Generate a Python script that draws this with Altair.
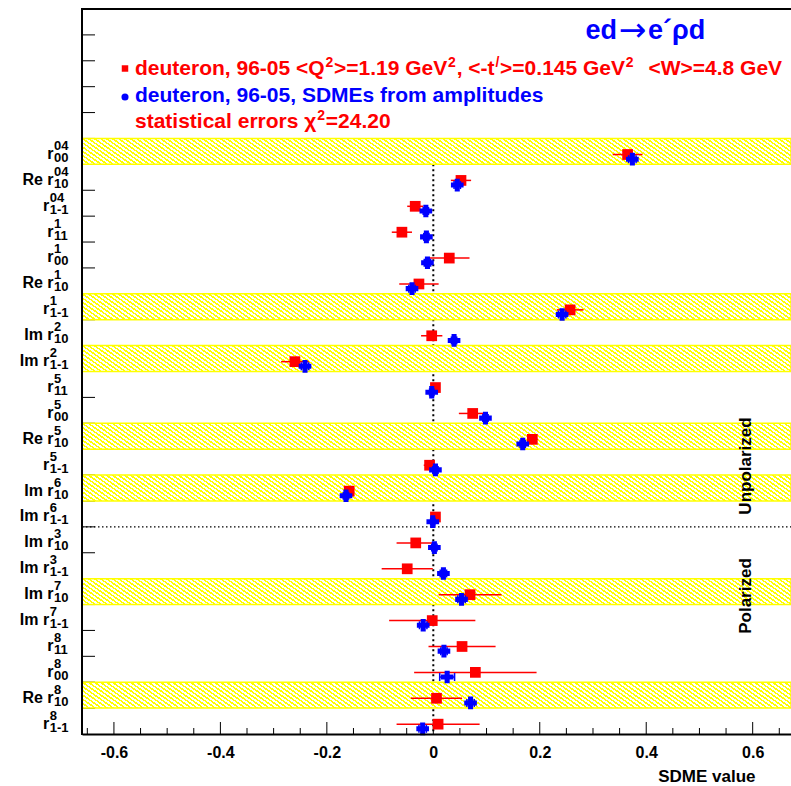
import altair as alt
import pandas as pd
import numpy as np

# ---------------- data ----------------
main_txt = ["r", "Re r", "r", "r", "r", "Re r", "r", "Im r", "Im r", "r", "r", "Re r",
            "r", "Im r", "Im r", "Im r", "Im r", "Im r", "Im r", "r", "r", "Re r", "r"]
sup_txt = ["04", "04", "04", "1", "1", "1", "1", "2", "2", "5", "5", "5",
           "5", "6", "6", "3", "3", "7", "7", "8", "8", "8", "8"]
sub_txt = ["00", "10", "1-1", "11", "00", "10", "1-1", "10", "1-1", "11", "00", "10",
           "1-1", "10", "1-1", "10", "1-1", "10", "1-1", "11", "00", "10", "1-1"]
red_val = [0.365, 0.052, -0.034, -0.059, 0.030, -0.027, 0.257, -0.003, -0.260, 0.004, 0.074, 0.186,
           -0.007, -0.158, 0.004, -0.033, -0.049, 0.069, -0.002, 0.054, 0.079, 0.006, 0.009]
red_err = [0.028, 0.019, 0.015, 0.019, 0.038, 0.037, 0.025, 0.020, 0.026, 0.006, 0.026, 0.010,
           0.011, 0.008, 0.006, 0.036, 0.048, 0.059, 0.081, 0.063, 0.115, 0.048, 0.078]
blue_val = [0.374, 0.045, -0.014, -0.013, -0.011, -0.040, 0.242, 0.039, -0.241, -0.003, 0.098, 0.168,
            0.004, -0.164, -0.001, 0.002, 0.019, 0.053, -0.019, 0.020, 0.026, 0.070, -0.020]
blue_err = [0.007, 0.006, 0.005, 0.005, 0.006, 0.006, 0.007, 0.005, 0.007, 0.004, 0.005, 0.005,
            0.005, 0.005, 0.004, 0.005, 0.006, 0.007, 0.007, 0.006, 0.014, 0.007, 0.007]
highlighted = [True, False, False, False, False, False, True, False, True, False, False, True,
               False, True, False, False, False, True, False, False, False, True, False]

x_major = [-0.6, -0.4, -0.2, 0.0, 0.2, 0.4, 0.6]
x_minor = [-0.65, -0.55, -0.5, -0.45, -0.35, -0.3, -0.25, -0.15, -0.1, -0.05,
           0.05, 0.1, 0.15, 0.25, 0.3, 0.35, 0.45, 0.5, 0.55, 0.65]

N_EMPTY = 5
N_ROWS = N_EMPTY + len(main_txt)
SPLIT_ROW = N_EMPTY + 15           # unpolarized / polarized boundary

# ---------------- layout ----------------
W, H = 709, 725
OX, OY = 82, 9                     # plot-area origin in the page
ROW_H = H / N_ROWS
FONT = "Liberation Sans"
RED, BLUE, YELLOW = "#ff0000", "#0000ff", "#ffff00"

# approximate advance widths (em) of the bold sans font, used to flow text runs
CW = {" ": .278, ",": .278, "-": .333, ".": .278, "/": .278, "<": .584, "=": .584, ">": .584,
      "G": .778, "Q": .778, "V": .667, "W": .944, "S": .667, "D": .722, "M": .833, "E": .667,
      "a": .556, "c": .556, "d": .611, "e": .556, "f": .333, "i": .278, "l": .278, "m": .889,
      "n": .611, "o": .611, "p": .611, "r": .389, "s": .556, "t": .333, "u": .611, "\u03c7": .58}


def text_w(s, fs):
    return sum(CW.get(c, .556) for c in s) * fs


xscale = alt.Scale(domain=[-0.66, 0.672], nice=False, zero=False)
yscale = alt.Scale(domain=[0, N_ROWS], reverse=True, nice=False, zero=False)

df = pd.DataFrame(dict(main=main_txt, sup=sup_txt, sub=sub_txt, red=red_val, red_err=red_err,
                       blue=blue_val, blue_err=blue_err, hl=highlighted))
df["row"] = N_EMPTY + np.arange(len(df))
df["row_end"] = df["row"] + 1
df["y_red"] = df["row"] + 0.62
df["y_blue"] = df["row"] + 0.80
df["y_lab"] = df["row"] + 0.5
df["red_lo"] = df["red"] - df["red_err"]
df["red_hi"] = df["red"] + df["red_err"]
df["blue_lo"] = df["blue"] - df["blue_err"]
df["blue_hi"] = df["blue"] + df["blue_err"]

SCRIPT_FS, MAIN_FS = 13, 16
LABEL_RIGHT = 68.5 - OX

df["w"] = [max(text_w(a, SCRIPT_FS), text_w(b, SCRIPT_FS)) for a, b in zip(df["sup"], df["sub"])]
df["x_main"] = LABEL_RIGHT - df["w"] - 0.5
df["x_scr"] = LABEL_RIGHT - df["w"]

one = pd.DataFrame({"k": [0]})

# hatch pattern emulated with a striped linear gradient
theta = np.deg2rad(35)
r = (ROW_H / (W * np.tan(theta)))
a = (1 + r) / (1 + r * r)
b = a * r
period_px = 6.0
p = period_px / (W * a * (1 + r * r))
frac = 0.45
stops = []
k = 0
while k * p < 1:
    o0 = k * p
    o1 = min(1.0, o0 + frac * p)
    o2 = min(1.0, o0 + p)
    stops += [{"offset": round(o0, 5), "color": YELLOW}, {"offset": round(o1, 5), "color": YELLOW},
              {"offset": round(o1, 5), "color": "#ffffff"}, {"offset": round(o2, 5), "color": "#ffffff"}]
    k += 1
hatch = {"gradient": "linear", "x1": 0, "y1": 1, "x2": float(a), "y2": float(1 - b), "stops": stops}

# shared x axis (identical object on every layer so that layers merge it)
xaxis = alt.Axis(values=x_major, ticks=False, tickSize=0, domain=True, domainColor="black",
                 domainWidth=2, grid=False,
                 labelExpr="datum.value == 0 ? '0' : (datum.value < 0 ? '-' : '') + format(abs(datum.value), '.1f')",
                 labelFont=FONT, labelFontWeight="bold", labelFontSize=16, labelColor="black",
                 labelPadding=23, labelBaseline="alphabetic", labelFlush=False, labelOverlap=False,
                 title="SDME value", titleFont=FONT, titleFontWeight="bold", titleFontSize=17,
                 titleColor="black", titleAlign="right", titleAnchor="end", titleX=673, titleY=47,
                 titleBaseline="alphabetic", zindex=1)


def X(field):
    return alt.X(field, scale=xscale, axis=xaxis)


def Y(field):
    return alt.Y(field, scale=yscale, axis=None)


# ---------------- layers ----------------
ytick_df = pd.DataFrame({"b": list(range(1, N_ROWS))})
yticks = alt.Chart(ytick_df).mark_rule(color="black", strokeWidth=1).encode(
    x=alt.value(0), x2=alt.value(13), y=Y("b:Q"))

vline = alt.Chart(pd.DataFrame({"x": [0.0], "y1": [N_EMPTY + 1], "y2": [N_ROWS]})).mark_rule(
    color="black", strokeWidth=2, strokeDash=[2, 3]).encode(x=X("x:Q"), y=Y("y1:Q"), y2="y2:Q")

bands = alt.Chart(df[df["hl"]]).mark_rect(fill=hatch, stroke=YELLOW, strokeWidth=1.5).encode(
    x=alt.value(0), x2=alt.value(W), y=Y("row:Q"), y2="row_end:Q")

hline = alt.Chart(pd.DataFrame({"b": [SPLIT_ROW]})).mark_rule(
    color="black", strokeWidth=1.3, strokeDash=[1.5, 2.5]).encode(
    x=alt.value(0), x2=alt.value(W), y=Y("b:Q"))

xmaj = alt.Chart(pd.DataFrame({"v": x_major})).mark_rule(color="black", strokeWidth=1).encode(
    x=X("v:Q"), y=alt.value(H), y2=alt.value(H - 12))
xmin = alt.Chart(pd.DataFrame({"v": x_minor})).mark_rule(color="black", strokeWidth=1).encode(
    x=X("v:Q"), y=alt.value(H), y2=alt.value(H - 6))

red_bar = alt.Chart(df).mark_rule(color=RED, strokeWidth=1.5).encode(
    x=X("red_lo:Q"), x2="red_hi:Q", y=Y("y_red:Q"))
red_pt = alt.Chart(df).mark_square(size=115, color=RED, opacity=1).encode(
    x=X("red:Q"), y=Y("y_red:Q"))

blue_bar = alt.Chart(df).mark_rule(color=BLUE, strokeWidth=1.5).encode(
    x=X("blue_lo:Q"), x2="blue_hi:Q", y=Y("y_blue:Q"))
blue_cap_lo = alt.Chart(df).mark_tick(orient="vertical", size=8, thickness=1.5, color=BLUE, opacity=1).encode(
    x=X("blue_lo:Q"), y=Y("y_blue:Q"))
blue_cap_hi = alt.Chart(df).mark_tick(orient="vertical", size=8, thickness=1.5, color=BLUE, opacity=1).encode(
    x=X("blue_hi:Q"), y=Y("y_blue:Q"))
blue_pt = alt.Chart(df).mark_point(shape="cross", filled=True, size=160, color=BLUE, opacity=1).encode(
    x=X("blue:Q"), y=Y("y_blue:Q"))

frame_top = alt.Chart(one).mark_rule(color="black", strokeWidth=2).encode(
    x=alt.value(-1), x2=alt.value(W + 2), y=alt.value(0))
frame_left = alt.Chart(one).mark_rule(color="black", strokeWidth=2).encode(
    x=alt.value(0), y=alt.value(-1), y2=alt.value(H + 1))

lab_main = alt.Chart(df).mark_text(align="right", baseline="alphabetic", font=FONT, fontWeight="bold",
                                   fontSize=MAIN_FS, color="black", dy=7.5).encode(
    x=alt.X("x_main:Q", scale=None), y=Y("y_lab:Q"), text="main:N")
lab_sup = alt.Chart(df).mark_text(align="left", baseline="alphabetic", font=FONT, fontWeight="bold",
                                  fontSize=SCRIPT_FS, color="black", dy=-1.5).encode(
    x=alt.X("x_scr:Q", scale=None), y=Y("y_lab:Q"), text="sup:N")
lab_sub = alt.Chart(df).mark_text(align="left", baseline="alphabetic", font=FONT, fontWeight="bold",
                                  fontSize=SCRIPT_FS, color="black", dy=10.5).encode(
    x=alt.X("x_scr:Q", scale=None), y=Y("y_lab:Q"), text="sub:N")


def label(txt, x, y, color, size, align="left", angle=0, baseline="alphabetic", font=FONT, weight="bold"):
    """x, y given in page pixels"""
    return alt.Chart(one).mark_text(text=txt, align=align, baseline=baseline, font=font,
                                    fontWeight=weight, fontSize=size, color=color, angle=angle).encode(
        x=alt.value(x - OX), y=alt.value(y - OY))


LEG_FS, SUP_FS = 21, 14
SUP_UP = 8.5


def flow(runs, x0, base, color):
    """runs: list of (text, is_superscript, gap_before_px); laid out left to right from x0"""
    out, x = [], x0
    for txt, sup, gap in runs:
        x += gap
        fs = SUP_FS if sup else LEG_FS
        out.append(label(txt, x + (0.8 if sup else 0), base - (SUP_UP if sup else 0), color, fs))
        x += text_w(txt, fs) + (1.6 if sup else 0)
    return out


line1 = [("deuteron, 96-05 <Q", False, 0), ("2", True, 0), (">=1.19 GeV", False, 0), ("2", True, 0),
         (", <-t", False, 0), ("/", True, 0), (">=0.145 GeV", False, 0), ("2", True, 0),
         ("<W>=4.8 GeV", False, 14)]
line2 = [("deuteron, 96-05, SDMEs from amplitudes", False, 0)]
line3 = [("statistical errors \u03c7", False, 0), ("2", True, 0), ("=24.20", False, 0)]

texts = [
    # title
    label("ed", 617, 39, BLUE, 27, align="right"),
    label("\u2192", 632.5, 31, BLUE, 33, align="center", baseline="middle", font="DejaVu Sans", weight="normal"),
    label("e\u00b4\u03c1d", 648, 39, BLUE, 27),
    *flow(line1, 135, 75, RED),
    *flow(line2, 135, 101.7, BLUE),
    *flow(line3, 135, 128.3, RED),
    # side labels
    label("Unpolarized", 746, 466, "black", 17, align="center", angle=270, baseline="middle"),
    label("Polarized", 746, 596, "black", 17, align="center", angle=270, baseline="middle"),
]
leg_sq = alt.Chart(one).mark_square(size=42, color=RED, opacity=1).encode(
    x=alt.value(125 - OX), y=alt.value(68.5 - OY))
leg_ci = alt.Chart(one).mark_circle(size=50, color=BLUE, opacity=1).encode(
    x=alt.value(125 - OX), y=alt.value(97 - OY))

chart = alt.layer(
    yticks, vline, bands, hline, xmaj, xmin,
    red_bar, red_pt, blue_bar, blue_cap_lo, blue_cap_hi, blue_pt,
    frame_top, frame_left, lab_main, lab_sup, lab_sub,
    leg_sq, leg_ci, *texts,
).properties(
    width=W, height=H,
    padding={"left": OX, "top": OY, "right": 0, "bottom": 786 - OY - H},
    autosize=alt.AutoSizeParams(type="none"),
    background="white",
).configure_view(stroke=None)

chart.save("out.html", embed_options={"renderer": "svg", "actions": False})
